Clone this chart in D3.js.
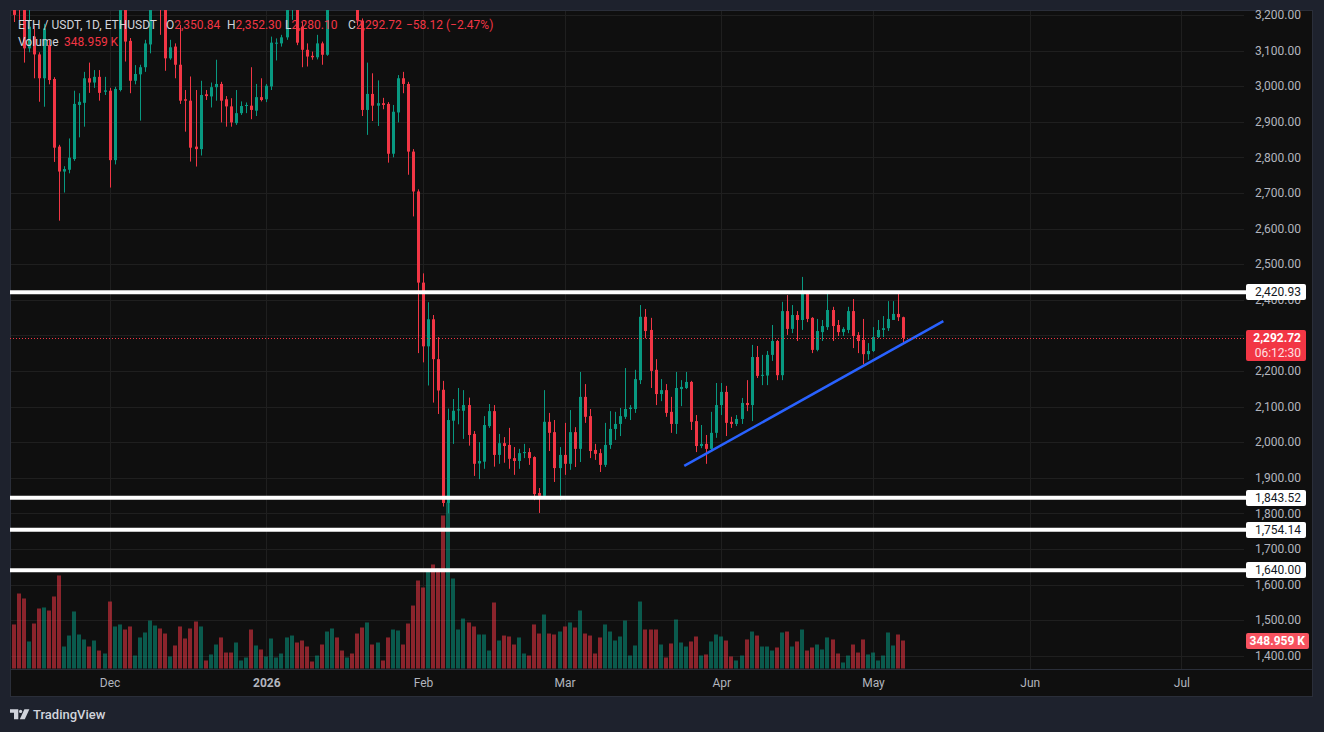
<!DOCTYPE html>
<html lang="en">
<head>
<meta charset="utf-8" />
<title>ETH / USDT 1D</title>
<style>
  body { margin:0; background:#1e222d; overflow:hidden; }
  svg text { font-family: Roboto, "Noto Sans", sans-serif; }
</style>
</head>
<body>
<script src="https://d3js.org/d3.v7.min.js"></script>
<script>
// daily candles, first one is 2025-11-12
var startDay = '2025-11-12';
var opens = [
  3330,3290,3240,3106,3139,3089,3022,3115,3020,2830,
  2760,2765,2795,2947,2953,3022,3010,3026,2984,2987,
  2792,2989,3215,3127,3015,3033,3053,3117,3230,3290,
  3235,3078,3111,3060,2963,2959,2830,2823,2977,2971,
  2997,3006,2963,2943,2896,2924,2944,2945,2931,2969,
  2963,2999,3119,3120,3137,3230,3290,3167,3102,3085,
  3081,3120,3088,3235,3310,3290,3270,3320,3290,3184,
  2933,2978,2945,2952,2950,2810,2926,3022,3006,2816,
  2704,2448,2269,2345,2233,2147,1829,2060,2089,2088,
  2104,2023,1940,1945,2045,2087,1964,1997,1992,1955,
  1947,1969,1972,1958,1857,1849,2057,2028,1927,1964,
  1939,2028,1981,2127,2073,1978,1969,1936,1992,2037,
  2051,2071,2093,2093,2174,2352,2315,2203,2135,2146,
  2085,2051,2149,2152,2169,2059,1989,1995,1981,2026,
  2104,2141,2057,2051,2065,2110,2104,2239,2186,2187,
  2245,2284,2188,2368,2318,2357,2343,2416,2349,2259,
  2309,2323,2371,2329,2309,2315,2368,2301,2287,2247,
  2256,2295,2315,2320,2343,2360,2350.84];
var highs = [
  3360,3320,3260,3215,3170,3095,3175,3130,3025,2835,
  2775,2853,2987,2980,3040,3066,3045,3045,3026,2995,
  2998,3230,3240,3135,3059,3060,3130,3240,3310,3310,
  3260,3130,3120,3172,2989,3027,2989,3015,2989,3010,
  3074,3012,2972,2966,2989,2957,2954,3053,3006,3022,
  3006,3139,3134,3144,3260,3310,3300,3180,3120,3097,
  3144,3125,3250,3340,3330,3310,3340,3340,3310,3190,
  3066,3036,3016,2967,2955,2947,3031,3040,3012,2823,
  2710,2474,2393,2357,2295,2172,2094,2121,2152,2146,
  2125,2031,2000,2073,2107,2104,2023,2014,2040,1986,
  1981,1995,1983,1960,1871,2146,2082,2062,1986,2054,
  2090,2042,2197,2163,2093,1995,1981,2054,2087,2085,
  2096,2208,2104,2203,2385,2374,2349,2233,2177,2163,
  2127,2197,2174,2197,2172,2076,2048,2020,2085,2166,
  2166,2158,2071,2076,2124,2174,2273,2270,2245,2256,
  2329,2287,2394,2413,2385,2368,2464,2424,2351,2346,
  2343,2422,2380,2343,2323,2380,2402,2309,2346,2278,
  2323,2343,2354,2396,2396,2422,2352.30];
var lows = [
  3180,3186,3066,3095,3022,2956,2942,3005,2787,2622,
  2701,2755,2790,2856,2886,2981,2995,2959,2975,2715,
  2780,2985,3069,2980,3005,2903,3040,3092,3225,3144,
  3043,3074,3022,2950,2872,2788,2774,2805,2961,2940,
  2959,2898,2886,2886,2891,2919,2924,2907,2916,2957,
  2955,2989,3072,3111,3130,3186,3115,3053,3055,3074,
  3075,3060,3085,3225,3260,3235,3250,3270,3170,2916,
  2863,2902,2888,2935,2785,2800,2898,2980,2751,2634,
  2250,2224,2159,2111,2079,1819,1800,1995,2050,2009,
  1990,1905,1896,1925,2040,1931,1939,1942,1925,1908,
  1925,1955,1936,1837,1801,1845,1975,1888,1837,1908,
  1922,1930,1944,2054,1955,1950,1916,1930,1981,2006,
  2017,2065,2062,2082,2163,2292,2152,2104,2115,2071,
  2026,2023,2101,2149,2034,1972,1983,1939,1975,2012,
  2076,2017,2040,2045,2051,2087,2059,2180,2160,2160,
  2228,2174,2174,2301,2306,2284,2315,2337,2250,2255,
  2284,2315,2284,2298,2298,2306,2264,2250,2219,2231,
  2253,2292,2295,2312,2343,2340,2280.10];
var closes = [
  3200,3215,3106,3167,3089,3022,3162,3017,2827,2760,
  2767,2799,2950,2956,3022,3010,3026,2981,2988,2792,
  2992,3215,3125,3015,3034,3053,3120,3230,3290,3235,
  3078,3109,3060,2959,2959,2827,2823,2975,2972,2997,
  3006,2959,2943,2898,2924,2944,2947,2933,2969,2961,
  3001,3122,3122,3137,3230,3290,3122,3102,3083,3081,
  3120,3088,3230,3310,3290,3270,3320,3290,3184,2933,
  2978,2945,2952,2947,2810,2928,3022,3006,2816,2704,
  2448,2269,2345,2233,2145,1829,2062,2088,2092,2104,
  2020,1939,1947,2048,2087,1964,1997,1989,1953,1947,
  1969,1972,1955,1854,1849,2057,2026,1927,1964,1939,
  2028,1981,2127,2071,1975,1967,1936,1992,2037,2051,
  2073,2093,2097,2177,2352,2312,2200,2135,2146,2082,
  2051,2152,2155,2169,2057,1989,1995,1981,2026,2104,
  2141,2054,2051,2065,2110,2104,2239,2186,2189,2245,
  2284,2188,2368,2318,2357,2343,2416,2346,2259,2312,
  2326,2371,2326,2309,2318,2368,2298,2284,2247,2256,
  2295,2315,2320,2346,2360,2350.84,2292.72];
// volume in thousands
var volumes = [
  549,935,873,337,561,748,761,723,898,1160,
  274,411,711,424,362,274,349,224,187,835,
  524,549,486,524,162,387,449,598,536,499,
  436,150,287,524,374,499,586,524,100,175,
  299,387,199,199,324,100,137,486,287,237,
  150,374,137,187,387,411,324,349,274,87,
  162,299,461,499,387,224,137,187,436,511,
  574,299,324,100,387,486,474,299,561,785,
  1097,1010,1222,1297,1247,1908,2070,1122,486,623,
  574,524,424,424,224,823,349,411,399,299,
  387,187,162,549,436,673,436,424,461,524,
  574,511,723,436,411,187,387,549,461,349,
  399,598,162,287,835,486,486,486,299,137,
  312,611,324,274,337,399,162,175,337,424,
  399,349,150,100,162,362,461,411,274,274,
  224,262,449,461,274,337,486,224,262,299,
  237,387,362,187,75,162,299,199,362,175,
  199,100,162,449,287,424,348.959];

var priceTicks = [1400,1500,1600,1700,1800,1900,2000,2100,2200,2300,2400,2500,
                  2600,2700,2800,2900,3000,3100,3200];
var monthTicks = ['2025-12-01','2026-01-01','2026-02-01','2026-03-01','2026-04-01',
                  '2026-05-01','2026-06-01','2026-07-01'];
var monthLabels = ['Dec','2026','Feb','Mar','Apr','May','Jun','Jul'];
var levels = [2420.93, 1843.52, 1754.14, 1640.00];
var trendDates = ['2026-03-24T16:00:00Z', '2026-05-14T22:00:00Z'];
var trendPrices = [1933, 2340];
var lastPrice = 2292.72;
var countdown = '06:12:30';

var plotL = 10, plotR = 1244, plotT = 10, plotB = 669;
var up = '#089981', down = '#f23645';

var parseDay = d3.utcParse('%Y-%m-%d');
var day0 = parseDay(startDay);
var candles = opens.map(function(o, i) {
  return {date: d3.utcDay.offset(day0, i), o: o, h: highs[i], l: lows[i], c: closes[i], v: volumes[i]};
});

var x = d3.scaleUtc().domain([day0, parseDay('2026-07-01')]).range([13.5, 1181.4]);
var y = d3.scaleLinear().domain([1400, 3200]).range([655.7, 14.9]);
var yVol = d3.scaleLinear().domain([0, 1000]).range([668.5, 588.3]);

var svg = d3.select('body').append('svg')
  .attr('width', 1324)
  .attr('height', 732);

// panel
svg.append('rect')
  .attr('x', 10.5).attr('y', 10.5)
  .attr('width', 1302).attr('height', 686)
  .attr('fill', '#0f0f0f')
  .attr('stroke', '#2a2e39');

svg.append('clipPath').attr('id', 'plot')
  .append('rect')
  .attr('x', plotL).attr('y', plotT)
  .attr('width', plotR - plotL).attr('height', plotB - plotT);

// grid
var grid = svg.append('g').attr('stroke', '#1f1f1f').attr('stroke-width', 1);
grid.selectAll('.hg').data(priceTicks).enter().append('line')
  .attr('x1', plotL + 1).attr('x2', plotR)
  .attr('y1', function(d) { return Math.round(y(d)) + 0.5; })
  .attr('y2', function(d) { return Math.round(y(d)) + 0.5; });
grid.selectAll('.vg').data(monthTicks).enter().append('line')
  .attr('y1', plotT + 1).attr('y2', plotB)
  .attr('x1', function(d) { return Math.round(x(parseDay(d))) + 0.5; })
  .attr('x2', function(d) { return Math.round(x(parseDay(d))) + 0.5; });

var plot = svg.append('g').attr('clip-path', 'url(#plot)');

// volume
plot.append('g').selectAll('rect').data(candles).enter().append('rect')
  .attr('x', function(d) { return Math.round(x(d.date)) - 2; })
  .attr('width', 4)
  .attr('y', function(d) { return yVol(d.v); })
  .attr('height', function(d) { return yVol(0) - yVol(d.v); })
  .attr('fill', function(d) { return d.c >= d.o ? up : down; })
  .attr('fill-opacity', 0.55);

// candles
var cg = plot.append('g').selectAll('g').data(candles).enter().append('g')
  .attr('fill', function(d) { return d.c >= d.o ? up : down; })
  .attr('stroke', function(d) { return d.c >= d.o ? up : down; });
cg.append('line')
  .attr('x1', function(d) { return Math.round(x(d.date)) + 0.5; })
  .attr('x2', function(d) { return Math.round(x(d.date)) + 0.5; })
  .attr('y1', function(d) { return y(d.h); })
  .attr('y2', function(d) { return y(d.l); })
  .attr('stroke-width', 1);
cg.append('rect')
  .attr('stroke', 'none')
  .attr('x', function(d) { return Math.round(x(d.date)) - 1; })
  .attr('width', 3)
  .attr('y', function(d) { return y(Math.max(d.o, d.c)); })
  .attr('height', function(d) { return Math.max(1, Math.abs(y(d.o) - y(d.c))); });

// trend line
plot.append('line')
  .attr('x1', x(new Date(trendDates[0]))).attr('y1', y(trendPrices[0]))
  .attr('x2', x(new Date(trendDates[1]))).attr('y2', y(trendPrices[1]))
  .attr('stroke', '#2962ff').attr('stroke-width', 2.5);

// last price dotted line
plot.append('line')
  .attr('x1', plotL).attr('x2', plotR)
  .attr('y1', Math.round(y(lastPrice)) + 0.5).attr('y2', Math.round(y(lastPrice)) + 0.5)
  .attr('stroke', down).attr('stroke-width', 1)
  .attr('stroke-dasharray', '1,2');

// horizontal levels
svg.append('g').selectAll('line').data(levels).enter().append('line')
  .attr('x1', plotL).attr('x2', 1246)
  .attr('y1', function(d) { return y(d); })
  .attr('y2', function(d) { return y(d); })
  .attr('stroke', '#ffffff').attr('stroke-width', 4);

// time axis separator
svg.append('line').attr('x1', plotL).attr('x2', 1313).attr('y1', plotB + 0.5).attr('y2', plotB + 0.5)
  .attr('stroke', '#2a2e39');

// price axis
var yAxis = d3.axisRight(y).tickValues(priceTicks).tickSize(0).tickPadding(0)
  .tickFormat(d3.format(',.2f'));
var gy = svg.append('g').attr('transform', 'translate(1301,0)').call(yAxis);
gy.select('.domain').remove();
gy.selectAll('text')
  .attr('text-anchor', 'end')
  .attr('fill', '#b2b5be')
  .style('font-size', '12px');

// time axis
var xAxis = d3.axisBottom(x).tickValues(monthTicks.map(parseDay)).tickSize(0).tickPadding(9)
  .tickFormat(function(d, i) { return monthLabels[i]; });
var gx = svg.append('g').attr('transform', 'translate(0,' + plotB + ')').call(xAxis);
gx.select('.domain').remove();
gx.selectAll('text')
  .attr('fill', '#b2b5be')
  .style('font-size', '12px')
  .style('font-weight', function(d, i) { return monthLabels[i] === '2026' ? 'bold' : 'normal'; });

// level labels on the price axis
var lab = svg.append('g').selectAll('g').data(levels).enter().append('g')
  .attr('transform', function(d) { return 'translate(1246,' + Math.round(y(d)) + ')'; });
lab.append('rect').attr('x', 0).attr('y', -8).attr('width', 60).attr('height', 16)
  .attr('rx', 2).attr('fill', '#ffffff');
lab.append('text').attr('x', 55).attr('dy', '0.35em').attr('text-anchor', 'end')
  .attr('fill', '#131722').style('font-size', '12px')
  .text(function(d) { return d3.format(',.2f')(d); });

// last price label
var lp = svg.append('g').attr('transform', 'translate(1246,' + Math.round(y(lastPrice)) + ')');
lp.append('rect').attr('x', 0).attr('y', -8).attr('width', 60).attr('height', 31)
  .attr('rx', 2).attr('fill', down);
lp.append('text').attr('x', 55).attr('dy', '0.35em').attr('text-anchor', 'end')
  .attr('fill', '#ffffff').style('font-size', '12px').style('font-weight', 'bold')
  .text(d3.format(',.2f')(lastPrice));
lp.append('text').attr('x', 55).attr('y', 15).attr('dy', '0.35em').attr('text-anchor', 'end')
  .attr('fill', '#ffe0e3').style('font-size', '12px')
  .text(countdown);

// last volume label
var lastVol = volumes[volumes.length - 1];
var lv = svg.append('g').attr('transform', 'translate(1246,' + Math.round(yVol(lastVol)) + ')');
lv.append('rect').attr('x', 0).attr('y', -8).attr('width', 63).attr('height', 16)
  .attr('rx', 2).attr('fill', '#f7525f');
lv.append('text').attr('x', 59).attr('dy', '0.35em').attr('text-anchor', 'end')
  .attr('fill', '#ffffff').style('font-size', '12px').style('font-weight', 'bold')
  .text(d3.format('.3f')(lastVol) + ' K');

// legend
var last = candles[candles.length - 1];
var prev = candles[candles.length - 2];
var chg = last.c - prev.c;
var fmt = d3.format(',.2f');
var legend = svg.append('g').style('font-size', '12px');
legend.append('text').attr('x', 18).attr('y', 29).attr('fill', '#d1d4dc')
  .attr('textLength', 139).attr('lengthAdjust', 'spacingAndGlyphs')
  .text('ETH / USDT, 1D, ETHUSDT');
var ohlc = [['O', last.o, 166], ['H', last.h, 227], ['L', last.l, 285], ['C', last.c, 348]];
ohlc.forEach(function(p) {
  var t = legend.append('text').attr('x', p[2]).attr('y', 29);
  t.append('tspan').attr('fill', '#d1d4dc').text(p[0]);
  t.append('tspan').attr('fill', down).text(fmt(p[1]));
});
legend.append('text').attr('x', 406).attr('y', 29).attr('fill', down)
  .text('\u2212' + fmt(Math.abs(chg)) + ' (\u2212' + d3.format('.2f')(Math.abs(chg) / prev.c * 100) + '%)');
var vt = legend.append('text').attr('x', 18).attr('y', 46);
vt.append('tspan').attr('fill', '#d1d4dc').text('Volume');
vt.append('tspan').attr('x', 64).attr('fill', down).text(d3.format('.3f')(lastVol) + ' K');

// TradingView mark
var logo = svg.append('g').attr('fill', '#d1d4dc');
logo.append('path').attr('d', 'M10,709.3 H18.3 V719.3 H14 V712.7 H10 Z');
logo.append('circle').attr('cx', 20.6).attr('cy', 711.4).attr('r', 1.6);
logo.append('path').attr('d', 'M24.4,709.3 H29.4 L24.8,719.3 H19.8 Z');
logo.append('text').attr('x', 33).attr('y', 718.5)
  .style('font-size', '13px').style('font-weight', 500)
  .text('TradingView');
</script>
</body>
</html>
